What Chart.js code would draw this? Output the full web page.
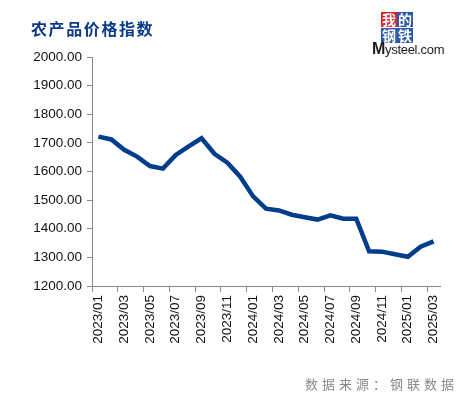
<!DOCTYPE html>
<html>
<head>
<meta charset="utf-8">
<script src="https://cdn.jsdelivr.net/npm/chart.js@4.4.1/dist/chart.umd.min.js"></script>
<style>
  html, body { margin: 0; padding: 0; background: #fff; }
  body { width: 465px; height: 397px; position: relative; overflow: hidden; }
  #wrap { position: absolute; left: 0; top: 0; width: 465px; height: 397px; }
  #title { position: absolute; left: 31px; top: 17px; font-family: "Noto Sans CJK SC", sans-serif; font-weight: 700; font-size: 16px; letter-spacing: 1.6px; color: #0b3a86; line-height: 22px; white-space: nowrap; }
  #source { position: absolute; right: 7px; top: 375px; font-family: "Noto Sans CJK SC", sans-serif; font-size: 13px; letter-spacing: 4px; color: #8a8a8a; line-height: 18px; white-space: nowrap; }
  .lg { position: absolute; width: 16px; height: 15px; color: #fff; font-family: "Noto Sans CJK SC", serif; font-size: 14px; line-height: 15px; text-align: center; font-weight: 700; }
  #mys { position: absolute; left: 372px; top: 40px; font-family: "Liberation Sans", Arial, sans-serif; font-size: 13px; color: #1a1a1a; letter-spacing: -0.3px; white-space: nowrap; }
  #mys b { font-size: 16px; }
</style>
</head>
<body>
<div id="wrap"><canvas id="c" width="465" height="397"></canvas></div>
<div id="title">农产品价格指数</div>
<div class="lg" style="left:381px;top:12px;background:#d7262e;">我</div>
<div class="lg" style="left:397px;top:12px;background:#2a5aa8;">的</div>
<div class="lg" style="left:381px;top:28px;background:#2a5aa8;">钢</div>
<div class="lg" style="left:397px;top:28px;background:#2a5aa8;">铁</div>
<div id="mys"><b>M</b>ysteel.com</div>
<div id="source">数据来源：钢联数据</div>
<script>
const categories = ["2023/01","2023/02","2023/03","2023/04","2023/05","2023/06","2023/07","2023/08","2023/09","2023/10","2023/11","2023/12",
  "2024/01","2024/02","2024/03","2024/04","2024/05","2024/06","2024/07","2024/08","2024/09","2024/10","2024/11","2024/12",
  "2025/01","2025/02","2025/03"];
const indexValues = [1722,1712,1676,1652,1619,1610,1658,1688,1716,1662,1631,1582,
  1513,1470,1464,1449,1440,1432,1447,1435,1435,1321,1320,1311,
  1302,1337,1356];
const yTicks = [1200,1300,1400,1500,1600,1700,1800,1900,2000];

new Chart(document.getElementById('c'), {
  type: 'line',
  data: {
    labels: categories,
    datasets: [{
      data: indexValues,
      borderColor: '#003d8c',
      borderWidth: 4.5,
      pointRadius: 0,
      tension: 0,
      fill: false
    }]
  },
  options: {
    responsive: false,
    animation: false,
    layout: { padding: { left: 0, right: 25, top: 57, bottom: 0 } },
    plugins: { legend: { display: false }, tooltip: { enabled: false } },
    scales: {
      x: {
        offset: true,
        grid: {
          offset: true,
          drawOnChartArea: false,
          drawTicks: true,
          tickLength: 6,
          color: (ctx) => (ctx.index % 2 === 0 ? '#888888' : 'rgba(0,0,0,0)')
        },
        border: { display: true, color: '#888888', width: 1 },
        ticks: {
          autoSkip: false,
          maxRotation: 90,
          minRotation: 90,
          padding: 3,
          color: '#111111',
          font: { family: 'Liberation Sans, Arial, sans-serif', size: 13.5 },
          callback: function(v, i) { return i % 2 === 0 ? categories[i] : ''; }
        },
        afterFit: (s) => { s.height = 111; }
      },
      y: {
        min: 1200,
        max: 2000,
        afterBuildTicks: (s) => { s.ticks = yTicks.map(v => ({ value: v })); },
        grid: {
          drawOnChartArea: false,
          drawTicks: true,
          tickLength: 5,
          color: '#888888'
        },
        border: { display: true, color: '#888888', width: 1 },
        ticks: {
          padding: 5,
          color: '#111111',
          font: { family: 'Liberation Sans, Arial, sans-serif', size: 13.5 },
          callback: (v) => Number(v).toFixed(2)
        },
        afterFit: (s) => { s.width = 92; }
      }
    }
  }
});
</script>
</body>
</html>
